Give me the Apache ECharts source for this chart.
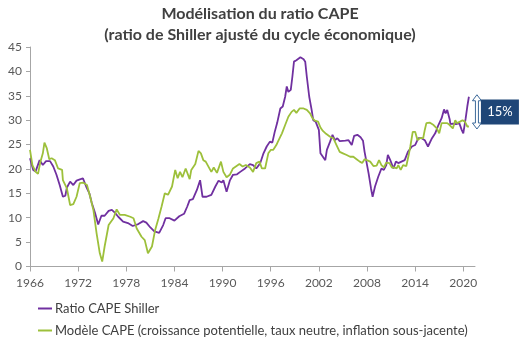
<!DOCTYPE html>
<html>
<head>
<meta charset="utf-8">
<script src="https://cdn.jsdelivr.net/npm/echarts@6/dist/echarts.min.js"></script>
<style>
  html, body { margin: 0; padding: 0; background: #fff; }
  #chart { width: 520px; height: 340px; }
</style>
</head>
<body>
<div id="chart"></div>
<script>
// Ratio CAPE de Shiller (date décimale, valeur)
const shillerDates = [1966.0,1966.4,1966.7,1967.2,1967.6,1968.0,1968.5,1968.9,1969.3,1969.7,1970.1,1970.4,1970.6,1971.0,1971.4,1971.8,1972.3,1972.6,1973.0,1973.4,1973.7,1974.1,1974.5,1974.9,1975.3,1975.8,1976.2,1976.6,1977.0,1977.6,1978.2,1978.8,1979.5,1980.1,1980.5,1981.0,1981.5,1982.1,1982.6,1982.9,1983.4,1984.0,1984.6,1985.2,1985.6,1985.9,1986.3,1986.8,1987.2,1987.5,1988.0,1988.6,1989.1,1989.5,1989.9,1990.1,1990.5,1990.9,1991.3,1991.8,1992.2,1992.8,1993.4,1993.8,1994.2,1994.7,1995.1,1995.5,1995.9,1996.2,1996.5,1996.8,1997.2,1997.5,1997.8,1998.0,1998.2,1998.5,1998.7,1998.9,1999.2,1999.7,2000.1,2000.3,2000.5,2000.8,2001.1,2001.3,2001.6,2001.8,2002.0,2002.2,2002.5,2002.8,2003.0,2003.4,2003.7,2004.0,2004.3,2004.6,2004.8,2005.3,2005.7,2006.1,2006.4,2006.8,2007.2,2007.5,2007.7,2008.2,2008.5,2008.7,2009.0,2009.4,2009.8,2010.1,2010.4,2010.6,2010.9,2011.3,2011.6,2011.9,2012.3,2012.7,2013.1,2013.6,2014.0,2014.4,2014.8,2015.2,2015.6,2016.1,2016.5,2016.9,2017.3,2017.6,2017.8,2018.0,2018.3,2018.4,2018.7,2019.1,2019.5,2019.8,2020.0,2020.3,2020.5,2020.7];
const shillerCape = [22.2,19.8,19.5,21.8,20.8,21.6,21.6,20.5,18.8,16.7,14.3,14.5,16.2,17.4,16.7,17.6,17.9,18.1,16.4,15.0,13.0,11.0,8.6,10.4,10.4,11.4,11.6,11.0,10.2,9.2,8.9,8.3,8.7,9.3,9.0,8.0,7.2,6.9,8.5,9.9,9.9,9.4,10.3,10.8,12.3,13.6,13.8,15.7,17.7,14.3,14.3,14.7,16.4,17.6,17.2,17.7,15.3,17.6,18.8,18.9,19.4,20.1,21.0,20.8,20.1,21.2,23.2,24.6,25.6,25.4,27.6,29.4,32.4,32.8,34.8,36.9,35.8,36.2,38.9,42.0,42.3,42.9,42.5,42.0,38.9,34.8,32.1,30.0,29.7,29.9,28.0,23.2,22.5,21.8,23.9,25.6,27.0,25.9,26.3,25.7,25.9,25.8,25.9,24.9,26.8,27.0,26.5,25.8,23.5,19.1,16.0,14.3,16.4,18.4,20.1,19.8,20.8,22.9,21.8,20.1,21.5,21.2,21.5,21.8,23.5,24.6,24.9,26.3,26.3,25.9,24.6,26.3,27.3,29.0,30.4,32.2,31.4,32.1,30.2,29.2,29.3,29.2,29.4,28.0,27.3,30.4,32.8,34.8];

// Modèle CAPE (date décimale, valeur)
const modelDates = [1966.0,1966.3,1966.7,1967.0,1967.3,1967.6,1967.8,1968.1,1968.4,1968.7,1969.1,1969.5,1970.0,1970.1,1970.6,1971.0,1971.4,1971.8,1972.2,1972.6,1973.1,1973.5,1973.9,1974.3,1974.7,1975.0,1975.3,1975.8,1976.4,1976.8,1977.2,1977.8,1978.5,1978.9,1979.3,1979.9,1980.3,1980.7,1981.2,1981.6,1982.0,1982.4,1982.8,1983.2,1983.7,1984.1,1984.4,1984.7,1985.0,1985.4,1985.9,1986.1,1986.6,1987.0,1987.3,1987.6,1987.9,1988.6,1988.9,1989.3,1989.8,1990.1,1990.5,1990.9,1991.3,1992.1,1992.5,1992.9,1993.4,1993.8,1994.2,1994.6,1994.9,1995.3,1995.7,1996.0,1996.3,1996.7,1996.9,1997.4,1997.8,1998.2,1998.6,1998.9,1999.2,1999.6,2000.1,2000.5,2000.9,2001.2,2001.5,2001.9,2002.2,2002.5,2002.9,2003.4,2003.8,2004.2,2004.6,2005.0,2005.4,2005.9,2006.3,2006.7,2007.1,2007.4,2007.7,2007.9,2008.4,2008.8,2009.2,2009.5,2009.8,2010.1,2010.4,2010.8,2011.1,2011.4,2011.7,2011.9,2012.2,2012.5,2012.9,2013.2,2013.4,2013.7,2014.0,2014.3,2014.6,2015.0,2015.2,2015.4,2015.8,2016.3,2016.7,2017.0,2017.3,2017.7,2018.0,2018.3,2018.7,2019.0,2019.2,2019.6,2019.9,2020.2,2020.5,2020.7];
const modelCape = [23.9,20.8,19.4,19.0,21.5,23.2,25.4,24.2,22.0,22.2,21.8,20.1,19.8,17.7,16.0,12.6,12.8,14.3,17.1,17.2,16.7,14.3,11.6,6.8,2.7,1.0,4.1,8.5,9.9,11.7,10.6,10.6,10.2,9.9,7.8,6.1,5.4,2.7,4.1,7.5,9.8,12.3,15.0,14.7,16.4,19.8,18.1,19.4,18.3,20.1,17.9,19.8,21.0,23.7,23.2,21.8,21.5,19.4,20.3,19.2,21.5,19.4,18.3,18.8,20.1,21.0,20.5,20.8,20.3,19.4,21.2,21.5,20.1,20.1,23.2,23.9,23.9,24.9,25.6,27.3,29.0,30.7,31.7,32.1,31.5,32.4,32.4,32.1,31.4,30.4,29.9,29.7,28.5,27.8,27.2,26.6,26.3,24.9,23.5,23.2,22.9,22.5,22.5,22.0,21.5,21.2,22.0,22.4,21.5,20.6,20.7,21.8,20.8,20.3,21.3,21.2,20.3,20.3,20.1,20.8,19.8,20.8,20.6,22.9,24.6,27.6,27.6,25.9,26.3,26.3,28.0,29.4,29.5,29.0,28.3,27.3,29.4,29.4,29.4,29.0,28.3,30.0,29.4,29.7,30.0,29.7,28.7,28.7];

// Graduations
const yearTicks = [1966,1972,1978,1984,1990,1996,2002,2008,2014,2020];
const capeTicks = [0,5,10,15,20,25,30,35,40,45];
const gapLabel = '15%';

const seriesNames = ['Ratio CAPE Shiller', 'Modèle CAPE (croissance potentielle, taux neutre, inflation sous-jacente)'];
const colors = ['#7030a0', '#9dc03b'];
const FONT = 'Lato, "Open Sans", sans-serif';

const zip = (xs, ys) => xs.map((x, i) => [x, ys[i]]);

const chart = echarts.init(document.getElementById('chart'), null, { renderer: 'canvas' });

const axisGray = '#a6a6a6';
const labelGray = '#595959';

chart.setOption({
  animation: false,
  backgroundColor: '#ffffff',
  textStyle: { fontFamily: FONT },
  title: {
    text: 'Modélisation du ratio CAPE\n(ratio de Shiller ajusté du cycle économique)',
    left: 'center',
    top: 3,
    padding: 0,
    textStyle: { fontFamily: FONT, fontSize: 16, fontWeight: 'bold', color: '#404040', lineHeight: 21 }
  },
  legend: {
    orient: 'vertical',
    left: 38,
    top: 302,
    padding: 0,
    height: 38,
    itemWidth: 14,
    itemHeight: 2,
    itemGap: 9,
    icon: 'rect',
    textStyle: { fontFamily: FONT, fontSize: 13, color: '#404040', padding: [0, 0, 0, -2] },
    data: seriesNames
  },
  grid: { left: 30, right: 45, top: 47, bottom: 73.5 },
  xAxis: {
    type: 'value',
    min: 1966,
    max: 2021.46,
    interval: 6,
    splitLine: { show: false },
    axisLine: { lineStyle: { color: axisGray, width: 1 } },
    axisTick: { show: true, length: 5, lineStyle: { color: axisGray }, customValues: yearTicks },
    axisLabel: { customValues: yearTicks, margin: 11, fontSize: 12, color: labelGray, fontFamily: FONT, formatter: v => String(v) }
  },
  yAxis: {
    type: 'value',
    min: 0,
    max: 45,
    interval: 5,
    splitLine: { show: false },
    axisLine: { show: true, lineStyle: { color: axisGray, width: 1 } },
    axisTick: { show: true, length: 4, lineStyle: { color: axisGray } },
    axisLabel: { margin: 8, fontSize: 12, color: labelGray, fontFamily: FONT, customValues: capeTicks }
  },
  series: [
    {
      name: seriesNames[0], type: 'line', data: zip(shillerDates, shillerCape),
      showSymbol: false, symbol: 'none', lineStyle: { color: colors[0], width: 1.8 }, itemStyle: { color: colors[0] },
      z: 2
    },
    {
      name: seriesNames[1], type: 'line', data: zip(modelDates, modelCape),
      showSymbol: false, symbol: 'none', lineStyle: { color: colors[1], width: 1.8 }, itemStyle: { color: colors[1] },
      z: 3
    }
  ]
});

// Double flèche entre les deux dernières valeurs et étiquette d'écart
function drawGap() {
  const lastS = shillerCape[shillerCape.length - 1];
  const lastM = modelCape[modelCape.length - 1];
  const xPix = chart.convertToPixel({ gridIndex: 0 }, [2021.7, lastS])[0];
  const top = chart.convertToPixel({ gridIndex: 0 }, [2021.7, lastS])[1] - 2;
  const bot = chart.convertToPixel({ gridIndex: 0 }, [2021.7, lastM])[1] + 2.5;
  const cx = xPix, hw = 4.5, sw = 1.5, hl = 6;
  const pts = [
    [cx, top], [cx + hw, top + hl], [cx + sw, top + hl], [cx + sw, bot - hl], [cx + hw, bot - hl],
    [cx, bot], [cx - hw, bot - hl], [cx - sw, bot - hl], [cx - sw, top + hl], [cx - hw, top + hl]
  ];
  const midY = (top + bot) / 2;
  chart.setOption({
    graphic: [
      {
        type: 'polygon', shape: { points: pts },
        style: { fill: '#ffffff', stroke: '#3d6a9a', lineWidth: 1 }, z: 10
      },
      {
        type: 'rect', shape: { x: cx + 4, y: midY - 12.5, width: 38, height: 25 },
        style: { fill: '#1f4677' }, z: 10
      },
      {
        type: 'text', x: cx + 23, y: midY,
        style: { text: gapLabel, fill: '#ffffff', font: '13px ' + FONT, align: 'center', verticalAlign: 'middle' },
        z: 11
      }
    ]
  });
}
drawGap();
</script>
</body>
</html>
